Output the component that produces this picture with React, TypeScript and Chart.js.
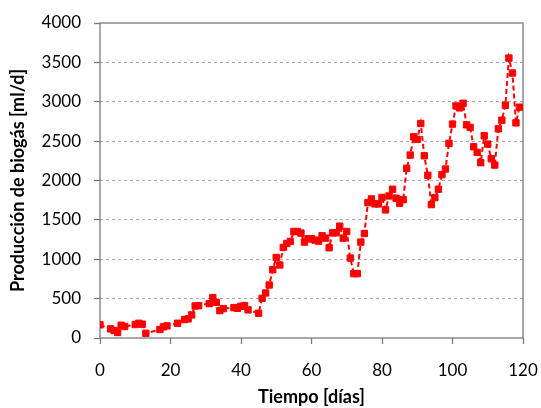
import React, { useEffect, useRef } from "react";
import { Chart, registerables } from "chart.js";

Chart.register(...registerables);

const days: number[] = [
  0, 3, 4, 5, 6, 7, 10, 11, 12, 13, 17, 18, 19, 22, 24, 25, 26, 27, 28, 31,
  32, 33, 34, 35, 38, 39, 40, 41, 42, 45, 46, 47, 48, 49, 50, 51, 52, 53, 54, 55,
  56, 57, 58, 59, 60, 61, 62, 63, 64, 65, 66, 67, 68, 69, 70, 71, 72, 73, 74, 75,
  76, 77, 78, 79, 80, 81, 82, 83, 84, 85, 86, 87, 88, 89, 90, 91, 92, 93, 94, 95,
  96, 97, 98, 99, 100, 101, 102, 103, 104, 105, 106, 107, 108, 109, 110, 111, 112, 113, 114, 115,
  116, 117, 118, 119,
];

const biogas: number[] = [
  167, 116, 95, 70, 162, 146, 171, 187, 175, 60, 108, 142, 154, 187, 234, 243, 293, 407, 411, 437,
  513, 453, 348, 373, 386, 377, 403, 411, 357, 314, 504, 572, 673, 867, 1023, 927, 1150, 1200, 1226, 1352,
  1352, 1332, 1218, 1260, 1260, 1243, 1230, 1298, 1268, 1146, 1336, 1336, 1420, 1268, 1352, 1015, 817, 817, 1218, 1327,
  1719, 1766, 1703, 1703, 1785, 1627, 1804, 1889, 1775, 1712, 1757, 2155, 2323, 2555, 2522, 2724, 2314, 2066, 1694, 1783,
  1889, 2074, 2146, 2471, 2716, 2947, 2922, 2981, 2707, 2674, 2428, 2357, 2226, 2568, 2462, 2276, 2196, 2656, 2766, 2956,
  3555, 3365, 2732, 2931,
];

const xTitle = "Tiempo [días]";
const yTitle = "Producción de biogás [ml/d]";

const FONT = "Lato, Carlito, Calibri, sans-serif";
const AXIS = "#7a7a7a";

const framePlugin = {
  id: "frame",
  beforeDatasetsDraw(chart: any) {
    const { ctx, chartArea } = chart;
    ctx.save();
    ctx.strokeStyle = AXIS;
    ctx.lineWidth = 1.3;
    ctx.strokeRect(chartArea.left, chartArea.top, chartArea.right - chartArea.left, chartArea.bottom - chartArea.top);
    ctx.restore();
  },
};

export default function App() {
  const ref = useRef<HTMLCanvasElement | null>(null);

  useEffect(() => {
    if (!ref.current) return;
    const data = days.map((d, i) => ({ x: d, y: biogas[i] }));
    const chart = new Chart(ref.current, {
      type: "scatter",
      data: {
        datasets: [
          {
            data,
            showLine: true,
            borderColor: "#ff0000",
            backgroundColor: "#ff0000",
            borderWidth: 2,
            borderDash: [5, 3],
            pointStyle: "rect",
            pointRadius: 4.5,
            pointBorderWidth: 1,
            pointBorderColor: "#ff0000",
            pointBackgroundColor: "#ff0000",
          },
        ],
      },
      options: {
        responsive: false,
        animation: false,
        devicePixelRatio: 1,
        layout: { padding: { top: 23, right: 18, left: 0, bottom: 0 } },
        plugins: { legend: { display: false }, tooltip: { enabled: false } },
        scales: {
          x: {
            type: "linear",
            min: 0,
            max: 120,
            border: { display: false },
            grid: { drawOnChartArea: false, drawTicks: true, tickLength: 6, tickColor: AXIS, tickWidth: 1.3 },
            ticks: {
              stepSize: 20,
              color: "#000",
              padding: 16,
              font: { family: FONT, size: 17 },
              callback: (v: any) => String(v),
            },
            title: {
              display: true,
              text: xTitle,
              color: "#000",
              padding: { top: 0, bottom: 0 },
              font: { family: FONT, size: 18, weight: "bold" },
            },
            afterFit: (s: any) => {
              s.height = 70;
              s.paddingLeft = 0;
              s.paddingRight = 0;
            },
          },
          y: {
            min: 0,
            max: 4000,
            border: { display: false, dash: [3, 3] },
            grid: {
              color: (c: any) => (c.tick && (c.tick.value === 0 || c.tick.value === 4000) ? "rgba(0,0,0,0)" : "#a8a8a8"),
              lineWidth: 1,
              tickLength: 6,
              tickColor: AXIS,
              tickWidth: 1.3,
            },
            ticks: {
              stepSize: 500,
              color: "#000",
              padding: 13,
              font: { family: FONT, size: 17 },
              callback: (v: any) => String(v),
            },
            title: {
              display: true,
              text: yTitle,
              color: "#000",
              padding: { top: 7, bottom: 0 },
              font: { family: FONT, size: 18, weight: "bold" },
            },
            afterFit: (s: any) => {
              s.width = 100;
              s.paddingTop = 0;
              s.paddingBottom = 0;
            },
          },
        },
      },
      plugins: [framePlugin],
    });
    return () => chart.destroy();
  }, []);

  return (
    <div style={{ position: "fixed", left: 0, top: 0, width: 541, height: 408, background: "#fff" }}>
      <canvas ref={ref} width={541} height={408} style={{ display: "block", width: 541, height: 408 }} />
    </div>
  );
}
